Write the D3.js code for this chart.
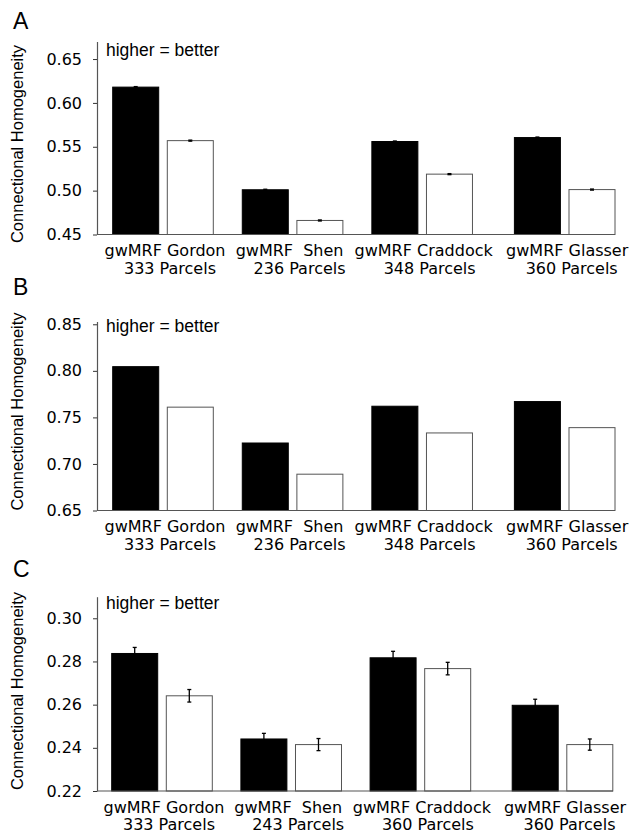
<!DOCTYPE html>
<html>
<head>
<meta charset="utf-8">
<script src="https://cdnjs.cloudflare.com/ajax/libs/d3/7.8.5/d3.min.js"></script>
<style>
  body { margin: 0; background: #fff; }
  svg { display: block; }
  text { font-family: "DejaVu Sans", sans-serif; fill: #000; }
  .sans { font-family: "Liberation Sans", Arial, sans-serif; }
</style>
</head>
<body>
<svg id="chart" width="641" height="834"></svg>
<script>
// ---- data ----
const panelNames = ["A", "B", "C"];
const methods = ["gwMRF", "Parcellation"];

const line1Labels = ["gwMRF Gordon", "gwMRF  Shen", "gwMRF Craddock", "gwMRF Glasser"];
const parcelsAB = ["333 Parcels", "236 Parcels", "348 Parcels", "360 Parcels"];
const parcelsC = ["333 Parcels", "243 Parcels", "360 Parcels", "360 Parcels"];

const gwmrfA = [0.618, 0.501, 0.556, 0.5605];
const otherA = [0.557, 0.466, 0.5188, 0.5012];
const errGwmrfA = [0.0006, 0.0006, 0.0006, 0.0006];
const errOtherA = [0.0006, 0.0006, 0.0006, 0.0006];

const gwmrfB = [0.8045, 0.7225, 0.762, 0.767];
const otherB = [0.761, 0.689, 0.7333, 0.739];
const errGwmrfB = [0, 0, 0, 0];
const errOtherB = [0, 0, 0, 0];

const gwmrfC = [0.2837, 0.2441, 0.2817, 0.2597];
const otherC = [0.2641, 0.2415, 0.2767, 0.2415];
const errGwmrfC = [0.0028, 0.0026, 0.0030, 0.0028];
const errOtherC = [0.0029, 0.0028, 0.0029, 0.0026];

const ticksA = [0.45, 0.50, 0.55, 0.60, 0.65];
const ticksB = [0.65, 0.70, 0.75, 0.80, 0.85];
const ticksC = [0.22, 0.24, 0.26, 0.28, 0.30];

const domainA = [0.45, 0.67];
const domainB = [0.65, 0.853];
const domainC = [0.22, 0.31];

// ---- layout ----
const AXIS_X = 97;
const GROUP_SLOTS = [0, 1, 2, 3.1];
const LINE1_DX = [2, -3, 1.5, 2.5];
const LINE2_DX = [7, 7, 7.5, 7];

const layouts = [
  { top: 41.5, bottom: 234.5, letterY: 29, noteDy: 14, ylabY: 144, gx: [163, 564.7], right: 615 },
  { top: 321.5, bottom: 510.5, letterY: 295, noteDy: 10, ylabY: 411.5, gx: [163, 564.7], right: 615 },
  { top: 596.7, bottom: 791, letterY: 577, noteDy: 12.5, ylabY: 691, gx: [162, 562.5], right: 613 },
];

const panels = [
  { gw: gwmrfA, ot: otherA, egw: errGwmrfA, eot: errOtherA, ticks: ticksA, domain: domainA, parcels: parcelsAB },
  { gw: gwmrfB, ot: otherB, egw: errGwmrfB, eot: errOtherB, ticks: ticksB, domain: domainB, parcels: parcelsAB },
  { gw: gwmrfC, ot: otherC, egw: errGwmrfC, eot: errOtherC, ticks: ticksC, domain: domainC, parcels: parcelsC },
];

const svg = d3.select("#chart");
const fmt = d3.format(".2f");

const xb = d3.scaleBand().domain(methods).range([-50.3, 50.3]).paddingInner(0.1575).paddingOuter(0);

panels.forEach((p, pi) => {
  const L = layouts[pi];
  const g = svg.append("g");

  const y = d3.scaleLinear().domain(p.domain).range([L.bottom, L.top]);
  const xg = d3.scaleLinear()
    .domain([GROUP_SLOTS[0], GROUP_SLOTS[GROUP_SLOTS.length - 1]])
    .range(L.gx);

  // panel letter
  g.append("text")
    .attr("class", "sans")
    .attr("x", 13)
    .attr("y", L.letterY)
    .attr("font-size", 23)
    .text(panelNames[pi]);

  // y axis label
  g.append("text")
    .attr("class", "sans")
    .attr("text-anchor", "middle")
    .attr("font-size", 16.5)
    .attr("transform", `translate(23,${L.ylabY}) rotate(-90)`)
    .text("Connectional Homogeneity");

  // bars
  const rows = [];
  p.gw.forEach((v, i) => {
    rows.push({ i, m: methods[0], v, e: p.egw[i] });
    rows.push({ i, m: methods[1], v: p.ot[i], e: p.eot[i] });
  });

  g.selectAll("rect.bar")
    .data(rows)
    .join("rect")
    .attr("class", "bar")
    .attr("x", (d) => xg(GROUP_SLOTS[d.i]) + xb(d.m))
    .attr("width", xb.bandwidth())
    .attr("y", (d) => y(d.v))
    .attr("height", (d) => L.bottom - y(d.v))
    .attr("fill", (d) => (d.m === methods[0] ? "#000" : "#fff"))
    .attr("stroke", (d) => (d.m === methods[0] ? "#000" : "#555"))
    .attr("stroke-width", 1);

  // error bars
  const errs = g.selectAll("g.err")
    .data(rows.filter((d) => d.e > 0))
    .join("g")
    .attr("class", "err")
    .attr("transform", (d) => `translate(${xg(GROUP_SLOTS[d.i]) + xb(d.m) + xb.bandwidth() / 2},0)`)
    .attr("stroke", "#000")
    .attr("stroke-width", 1.3);
  errs.append("line")
    .attr("y1", (d) => y(d.v + d.e))
    .attr("y2", (d) => y(d.v - d.e));
  errs.append("line")
    .attr("x1", -2).attr("x2", 2)
    .attr("y1", (d) => y(d.v + d.e))
    .attr("y2", (d) => y(d.v + d.e));
  errs.append("line")
    .attr("x1", -2).attr("x2", 2)
    .attr("y1", (d) => y(d.v - d.e))
    .attr("y2", (d) => y(d.v - d.e));

  // axes
  const ax = g.append("g")
    .attr("transform", `translate(${AXIS_X},0)`)
    .call(d3.axisLeft(y).tickValues(p.ticks).tickFormat(fmt).tickSize(4).tickSizeOuter(0).tickPadding(11));
  ax.select(".domain").attr("stroke", "#555").attr("stroke-width", 1.2);
  ax.selectAll(".tick line").attr("stroke", "#333");
  ax.selectAll(".tick text")
    .attr("font-family", "DejaVu Sans, sans-serif")
    .attr("font-size", 16)
    .attr("fill", "#000");

  g.append("line")
    .attr("x1", AXIS_X).attr("x2", L.right)
    .attr("y1", L.bottom).attr("y2", L.bottom)
    .attr("stroke", "#555").attr("stroke-width", 1.2);

  // note
  g.append("text")
    .attr("class", "sans")
    .attr("x", 106)
    .attr("y", L.top + L.noteDy)
    .attr("font-size", 17.5)
    .text("higher = better");

  // category labels
  const lab = g.selectAll("g.cat")
    .data(line1Labels.map((t, i) => ({ i, t, t2: p.parcels[i] })))
    .join("g")
    .attr("class", "cat");
  lab.append("text")
    .attr("text-anchor", "middle")
    .attr("font-size", 16)
    .style("white-space", "pre")
    .attr("x", (d) => xg(GROUP_SLOTS[d.i]) + LINE1_DX[d.i])
    .attr("y", L.bottom + 21.5)
    .text((d) => d.t);
  lab.append("text")
    .attr("text-anchor", "middle")
    .attr("font-size", 16)
    .attr("x", (d) => xg(GROUP_SLOTS[d.i]) + LINE2_DX[d.i])
    .attr("y", L.bottom + 39)
    .text((d) => d.t2);
});
</script>
</body>
</html>
